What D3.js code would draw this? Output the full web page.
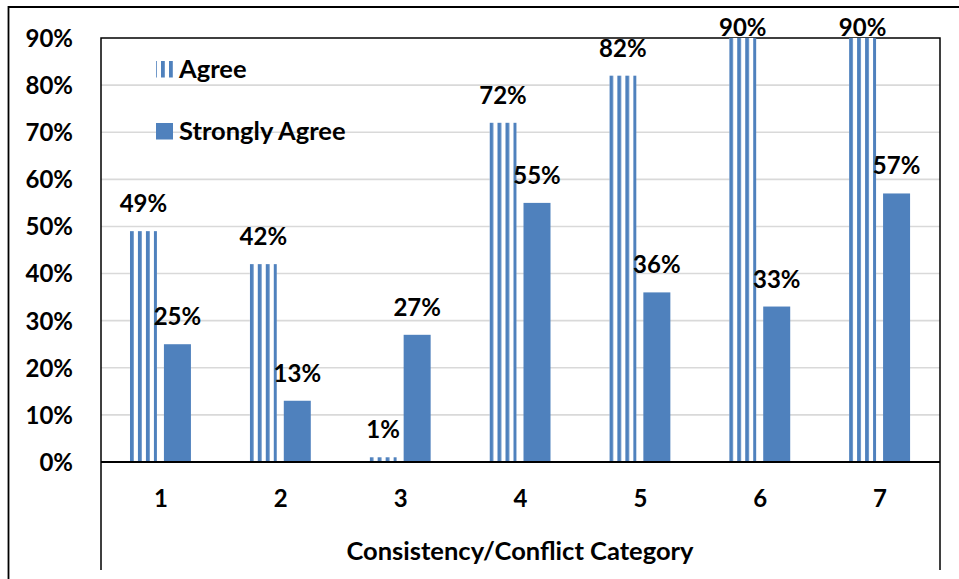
<!DOCTYPE html>
<html>
<head>
<meta charset="utf-8">
<script src="https://cdn.jsdelivr.net/npm/d3@7"></script>
<style>
  html, body { margin: 0; padding: 0; background: #fff; }
  svg { display: block; }
  text { font-family: Lato, "Open Sans", sans-serif; font-weight: bold; fill: #000; }
</style>
</head>
<body>
<script>
// ---- data ----
const categories = ["1", "2", "3", "4", "5", "6", "7"];
const seriesNames = ["Agree", "Strongly Agree"];
const agreeValues = [49, 42, 1, 72, 82, 90, 90];
const stronglyAgreeValues = [25, 13, 27, 55, 36, 33, 57];
const yTicks = [0, 10, 20, 30, 40, 50, 60, 70, 80, 90];
const xAxisTitle = "Consistency/Conflict Category";

const W = 959, H = 579;
const plot = { left: 101, right: 940, top: 38, bottom: 462 };
const blue = "#4F81BD";
const numSize = 24;
const wordSize = 25.5;

const svg = d3.select("body").append("svg").attr("width", W).attr("height", H);

// pattern for striped "Agree" bars (page-aligned vertical stripes)
const defs = svg.append("defs");
const pat = defs.append("pattern")
  .attr("id", "stripes").attr("patternUnits", "userSpaceOnUse")
  .attr("x", 1).attr("y", 0).attr("width", 8).attr("height", 8);
pat.append("rect").attr("x", 0).attr("y", 0).attr("width", 8).attr("height", 8).attr("fill", "#fff");
pat.append("rect").attr("x", 0).attr("y", 0).attr("width", 3.8).attr("height", 8).attr("fill", blue);

const fills = { "Agree": "url(#stripes)", "Strongly Agree": blue };

// scales
const y = d3.scaleLinear().domain([0, 90]).range([plot.bottom, plot.top]);
const x0 = d3.scaleBand().domain(categories).range([plot.left, plot.right]).padding(0);
const x1 = d3.scaleBand().domain(seriesNames).range([-31, 30]).paddingInner(7 / 34).paddingOuter(0);

// outer frame
svg.append("path")
  .attr("d", `M8.5,${H} V7 H${W}`)
  .attr("fill", "none").attr("stroke", "#000").attr("stroke-width", 1.8);

// gridlines
svg.append("g").selectAll("line")
  .data(yTicks.filter(d => d > 0 && d < 90))
  .join("line")
  .attr("x1", plot.left).attr("x2", plot.right)
  .attr("y1", d => y(d)).attr("y2", d => y(d))
  .attr("stroke", "#d9d9d9").attr("stroke-width", 1.6);

// plot frame (top, left, right extending down)
svg.append("path")
  .attr("d", `M${plot.left},570 V${plot.top} H${plot.right} V570`)
  .attr("fill", "none").attr("stroke", "#000").attr("stroke-width", 1.5);

// bars
const rows = categories.map((c, i) => ({
  cat: c,
  values: [
    { series: "Agree", value: agreeValues[i] },
    { series: "Strongly Agree", value: stronglyAgreeValues[i] }
  ]
}));

const groups = svg.append("g").selectAll("g")
  .data(rows).join("g")
  .attr("transform", d => `translate(${x0(d.cat) + x0.bandwidth() / 2},0)`);

groups.selectAll("rect")
  .data(d => d.values)
  .join("rect")
  .attr("x", d => x1(d.series))
  .attr("width", x1.bandwidth())
  .attr("y", d => y(d.value))
  .attr("height", d => y(0) - y(d.value))
  .attr("fill", d => fills[d.series]);

// labels
const minBaseline = 36;
groups.selectAll("text.lbl")
  .data(d => d.values)
  .join("text")
  .attr("class", "lbl")
  .attr("x", d => x1(d.series) + x1.bandwidth() / 2)
  .attr("y", d => Math.max(y(d.value) - 19, minBaseline))
  .attr("text-anchor", "middle")
  .attr("font-size", numSize)
  .text(d => d.value + "%");

// x axis line
svg.append("line")
  .attr("x1", plot.left).attr("x2", plot.right)
  .attr("y1", plot.bottom).attr("y2", plot.bottom)
  .attr("stroke", "#000").attr("stroke-width", 2);

// y axis labels
const yAxis = d3.axisLeft(y).tickValues(yTicks).tickFormat(d => d + "%").tickSize(0).tickPadding(0);
const yg = svg.append("g").attr("transform", "translate(73,0)").call(yAxis);
yg.select(".domain").remove();
yg.selectAll("text").attr("font-size", numSize).attr("dy", "0.35em").attr("fill", "#000")
  .style("font-family", "Lato, sans-serif").style("font-weight", "bold");

// x axis labels
const xAxis = d3.axisBottom(x0).tickSize(0).tickPadding(0);
const xg = svg.append("g").attr("transform", "translate(0,507)").call(xAxis);
xg.select(".domain").remove();
xg.selectAll("text").attr("font-size", numSize).attr("dy", 0).attr("y", 0).attr("fill", "#000")
  .style("font-family", "Lato, sans-serif").style("font-weight", "bold");

// x axis title
svg.append("text")
  .attr("x", 520).attr("y", 560)
  .attr("text-anchor", "middle")
  .attr("font-size", wordSize)
  .text(xAxisTitle);

// legend
const legend = svg.append("g");
const legendRows = [
  { name: "Agree", y: 61 },
  { name: "Strongly Agree", y: 123 }
];
legend.selectAll("rect")
  .data(legendRows).join("rect")
  .attr("x", 156).attr("y", d => d.y)
  .attr("width", 17).attr("height", 16.5)
  .attr("fill", d => fills[d.name]);
legend.selectAll("text")
  .data(legendRows).join("text")
  .attr("x", 179).attr("y", d => d.y + 16.5)
  .attr("font-size", wordSize)
  .text(d => d.name);
</script>
</body>
</html>
